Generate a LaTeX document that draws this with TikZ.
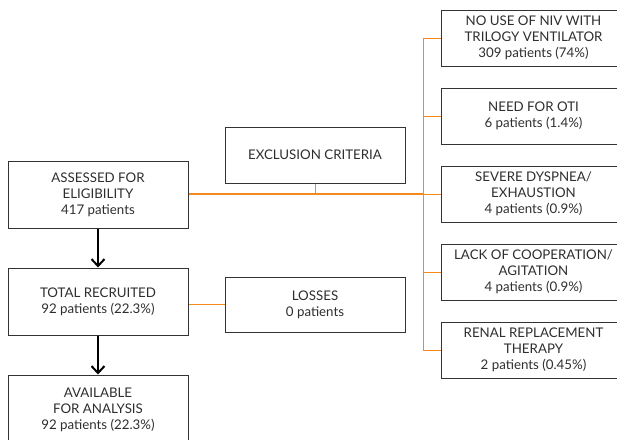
\documentclass[tikz,border=0pt]{standalone}
\usepackage{fontspec}
\setmainfont{Lato}
\usetikzlibrary{arrows.meta}
\definecolor{flowor}{HTML}{F5891C}
\definecolor{boxline}{HTML}{333333}
\definecolor{txt}{HTML}{2E2E2E}
\begin{document}
\begin{tikzpicture}[x=1pt,y=-1pt,
  box/.style={draw=boxline,line width=1pt,rectangle,minimum width=180pt,
    inner sep=0pt,align=center,text=txt,font=\fontsize{13.3}{16}\selectfont},
  rbox/.style={box,minimum width=184pt,minimum height=56pt},
  thinor/.style={draw=flowor,line width=1pt},
  thickor/.style={draw=flowor,line width=2.2pt},
  flowarrow/.style={draw=black,line width=2pt,-{Straight Barb[length=7pt,width=13pt,line width=2pt]}}]
\useasboundingbox (0,0) rectangle (617,439);
\node[box,minimum height=67pt] (assess) at (98,194.5) {ASSESSED FOR\\ELIGIBILITY\\417 patients};
\node[box,minimum height=56pt] (excl) at (315,155) {EXCLUSION CRITERIA};
\node[box,minimum height=67pt] (total) at (98,301.5) {TOTAL RECRUITED\\92 patients (22.3\%)};
\node[box,minimum height=55pt] (loss) at (315,304.5) {LOSSES\\0 patients};
\node[box,minimum height=70pt] (avail) at (98,410) {AVAILABLE\\FOR ANALYSIS\\92 patients (22.3\%)};
\node[rbox,anchor=west] (r1) at (441,38) {NO USE OF NIV WITH\\TRILOGY VENTILATOR\\309 patients (74\%)};
\node[rbox,anchor=west] (r2) at (441,116) {NEED FOR OTI\\6 patients (1.4\%)};
\node[rbox,anchor=west] (r3) at (441,194) {SEVERE DYSPNEA/\\EXHAUSTION\\4 patients (0.9\%)};
\node[rbox,anchor=west] (r4) at (441,272) {LACK OF COOPERATION/\\AGITATION\\4 patients (0.9\%)};
\node[rbox,anchor=west] (r5) at (441,350) {RENAL REPLACEMENT\\THERAPY\\2 patients (0.45\%)};
\coordinate (tj) at (423,194);
\draw[thinor] (excl.south) -- (excl.south |- tj);
\draw[thinor] (tj |- r1.west) -- (tj |- r5.west);
\foreach \r in {r1,r2,r3,r4,r5} \draw[thinor] (\r.west) -- (\r.west -| tj);
\draw[thickor] (assess.east |- tj) -- (tj);
\draw[thinor] (loss.west) -- (loss.west -| total.east);
\draw[flowarrow] (assess.south) -- (total.north);
\draw[flowarrow] (total.south) -- (avail.north);
\end{tikzpicture}
\end{document}
